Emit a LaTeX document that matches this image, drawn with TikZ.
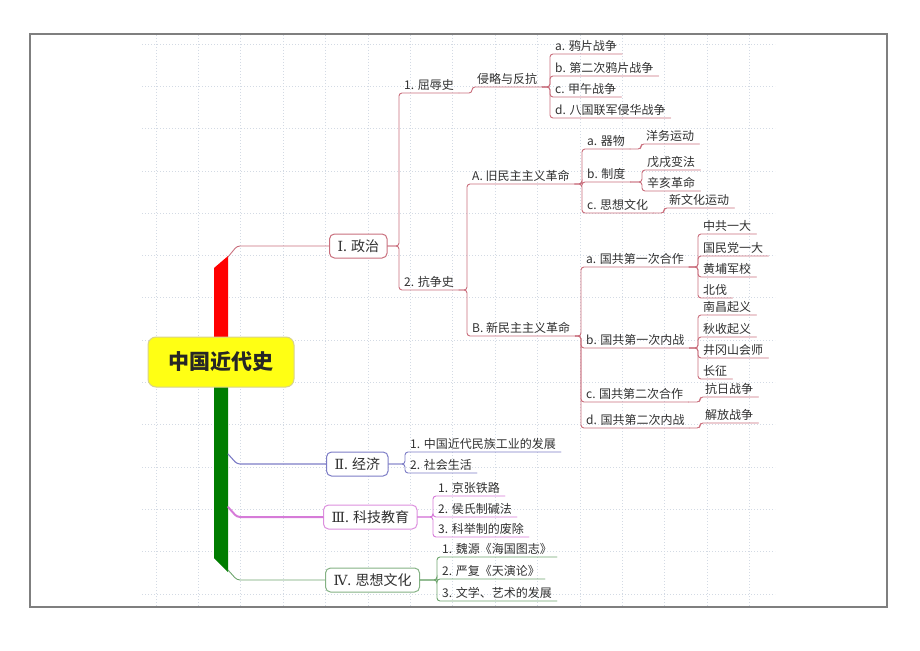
\documentclass[tikz,border=0pt]{standalone}
\usepackage{fontspec}
\setmainfont{Noto Sans CJK SC}
\newfontfamily\numfont{DejaVu Serif}
\usepackage{tikz}
\definecolor{txt}{HTML}{303030}
\definecolor{framec}{HTML}{7F7F7F}
\definecolor{gridc}{HTML}{D3DAE4}
\definecolor{rootfill}{HTML}{FFFF14}
\definecolor{rootline}{HTML}{D8D28C}
\definecolor{trunkred}{HTML}{FF0000}
\definecolor{trunkgreen}{HTML}{007D00}
\definecolor{zzc}{HTML}{C96F7D}
\definecolor{jjc}{HTML}{7C7CC6}
\definecolor{kjc}{HTML}{D67BD8}
\definecolor{sxc}{HTML}{6EA56E}
\tikzset{
  gridline/.style={draw=gridc, line width=0.7pt, dash pattern=on 1pt off 2pt},
  rootbox/.style={draw=rootline, fill=rootfill, rounded corners=8pt, line width=1pt,
    minimum width=146pt, minimum height=50pt, text=black!85,
    font=\fontsize{21}{24}\selectfont\bfseries},
  branch/.style={fill=white, rounded corners=5pt, line width=1pt, anchor=west,
    minimum height=24pt, inner xsep=8pt, text=txt, font=\fontsize{14}{16}\selectfont},
  leaf/.style={anchor=south west, inner xsep=5pt, inner ysep=2pt, text=txt,
    text height=9.5pt, text depth=1.5pt, font=\fontsize{12}{14}\selectfont},
  link/.style={rounded corners=3pt, line width=0.9pt, line cap=round},
  zzl/.style={link, draw=zzc},
  jjl/.style={link, draw=jjc},
  kjl/.style={link, draw=kjc},
  sxl/.style={link, draw=sxc},
}
\begin{document}
\begin{tikzpicture}[x=1pt,y=-1pt]
  \useasboundingbox (0,0) rectangle (920,650);

  % background grid and frame
  \foreach \i in {0,...,14}
    \draw[gridline] ({156+42.4*\i},35) -- ({156+42.4*\i},606);
  \foreach \j in {0,...,13}
    \draw[gridline] (142,{44+42.3*\j}) -- (775,{44+42.3*\j});
  \draw[draw=framec, line width=1.2pt] (30,34) rectangle (887,607);

  % trunk and root
  \fill[trunkred] (214,268) -- (228,256) -- (228,342) -- (214,342) -- cycle;
  \fill[trunkgreen] (214,382) -- (228,382) -- (228,572) -- (214,558) -- cycle;
  \node[rootbox] (root) at (221,362) {中国近代史};
  \coordinate (tz) at (228,257);
  \coordinate (tj) at (228,454);
  \coordinate (tk) at (228,507);
  \coordinate (ts) at (228,570);

  % main branches
  \node[branch, draw=zzc] (zz) at (329,246) {{\numfont Ⅰ}. 政治};
  \node[branch, draw=jjc] (jj) at (326,464) {{\numfont Ⅱ}. 经济};
  \node[branch, draw=kjc!85] (kj) at (323,517) {{\numfont Ⅲ}. 科技教育};
  \node[branch, draw=sxc!85] (sx) at (325,580) {{\numfont Ⅳ}. 思想文化};
  \draw[zzl] (tz) -- ++(9,-11) -- (zz.west);
  \draw[jjl, line width=1.1pt] (tj) -- ++(9,10) -- (jj.west);
  \draw[kjl, line width=2pt] (tk) -- ++(9,10) -- (kj.west);
  \draw[sxl] (ts) -- ++(9,10) -- (sx.west);

  % politics
  \node[leaf] (p1) at (399,93) {1. 屈辱史};
  \node[leaf] (p1x) at (472,87) {侵略与反抗};
  \node[leaf] (p1a) at (550,54) {a. 鸦片战争};
  \node[leaf] (p1b) at (550,76) {b. 第二次鸦片战争};
  \node[leaf] (p1c) at (550,97) {c. 甲午战争};
  \node[leaf] (p1d) at (550,118) {d. 八国联军侵华战争};
  \node[leaf] (p2) at (399,290) {2. 抗争史};
  \node[leaf] (pA) at (467,184) {A. 旧民主主义革命};
  \node[leaf] (pAa) at (582,149) {a. 器物};
  \node[leaf] (pAa1) at (641,144) {洋务运动};
  \node[leaf] (pAb) at (582,182) {b. 制度};
  \node[leaf] (pAb1) at (642,170) {戊戌变法};
  \node[leaf] (pAb2) at (642,191) {辛亥革命};
  \node[leaf] (pAc) at (582,213) {c. 思想文化};
  \node[leaf] (pAc1) at (664,208) {新文化运动};
  \node[leaf] (pB) at (467,336) {B. 新民主主义革命};
  \node[leaf] (pBa) at (581,267) {a. 国共第一次合作};
  \node[leaf] (pBa1) at (698,234) {中共一大};
  \node[leaf] (pBa2) at (698,256) {国民党一大};
  \node[leaf] (pBa3) at (698,277) {黄埔军校};
  \node[leaf] (pBa4) at (698,298) {北伐};
  \node[leaf] (pBb) at (581,348) {b. 国共第一次内战};
  \node[leaf] (pBb1) at (698,315) {南昌起义};
  \node[leaf] (pBb2) at (698,337) {秋收起义};
  \node[leaf] (pBb3) at (698,358) {井冈山会师};
  \node[leaf] (pBb4) at (698,379) {长征};
  \node[leaf] (pBc) at (581,402) {c. 国共第二次合作};
  \node[leaf] (pBc1) at (700,397) {抗日战争};
  \node[leaf] (pBd) at (581,428) {d. 国共第二次内战};
  \node[leaf] (pBd1) at (700,423) {解放战争};

  \foreach \c in {p1,p2}
    \draw[zzl] (zz.east) -| (\c.south west) -- (\c.south east);
  \draw[zzl] (p1.south east) -| (p1x.south west) -- (p1x.south east);
  \foreach \c in {p1a,p1b,p1c,p1d}
    \draw[zzl] (p1x.south east) -| (\c.south west) -- (\c.south east);
  \foreach \c in {pA,pB}
    \draw[zzl] (p2.south east) -| (\c.south west) -- (\c.south east);
  \foreach \c in {pAa,pAb,pAc}
    \draw[zzl] (pA.south east) -| (\c.south west) -- (\c.south east);
  \draw[zzl] (pAa.south east) -| (pAa1.south west) -- (pAa1.south east);
  \foreach \c in {pAb1,pAb2}
    \draw[zzl] (pAb.south east) -| (\c.south west) -- (\c.south east);
  \draw[zzl] (pAc.south east) -| (pAc1.south west) -- (pAc1.south east);
  \foreach \c in {pBa,pBb,pBc,pBd}
    \draw[zzl] (pB.south east) -| (\c.south west) -- (\c.south east);
  \foreach \c in {pBa1,pBa2,pBa3,pBa4}
    \draw[zzl] (pBa.south east) -| (\c.south west) -- (\c.south east);
  \foreach \c in {pBb1,pBb2,pBb3,pBb4}
    \draw[zzl] (pBb.south east) -| (\c.south west) -- (\c.south east);
  \draw[zzl] (pBc.south east) -| (pBc1.south west) -- (pBc1.south east);
  \draw[zzl] (pBd.south east) -| (pBd1.south west) -- (pBd1.south east);

  % economy
  \node[leaf] (jj1) at (405,452) {1. 中国近代民族工业的发展};
  \node[leaf] (jj2) at (405,473) {2. 社会生活};
  \foreach \c in {jj1,jj2}
    \draw[jjl] (jj.east) -| (\c.south west) -- (\c.south east);

  % science and education
  \node[leaf] (kj1) at (433,496) {1. 京张铁路};
  \node[leaf] (kj2) at (433,517) {2. 侯氏制碱法};
  \node[leaf] (kj3) at (433,537) {3. 科举制的废除};
  \foreach \c in {kj1,kj2,kj3}
    \draw[kjl] (kj.east) -| (\c.south west) -- (\c.south east);

  % thought and culture
  \node[leaf] (sx1) at (437,557) {1. 魏源《海国图志》};
  \node[leaf] (sx2) at (437,579) {2. 严复《天演论》};
  \node[leaf] (sx3) at (437,601) {3. 文学、艺术的发展};
  \foreach \c in {sx1,sx2,sx3}
    \draw[sxl] (sx.east) -| (\c.south west) -- (\c.south east);
\end{tikzpicture}
\end{document}
